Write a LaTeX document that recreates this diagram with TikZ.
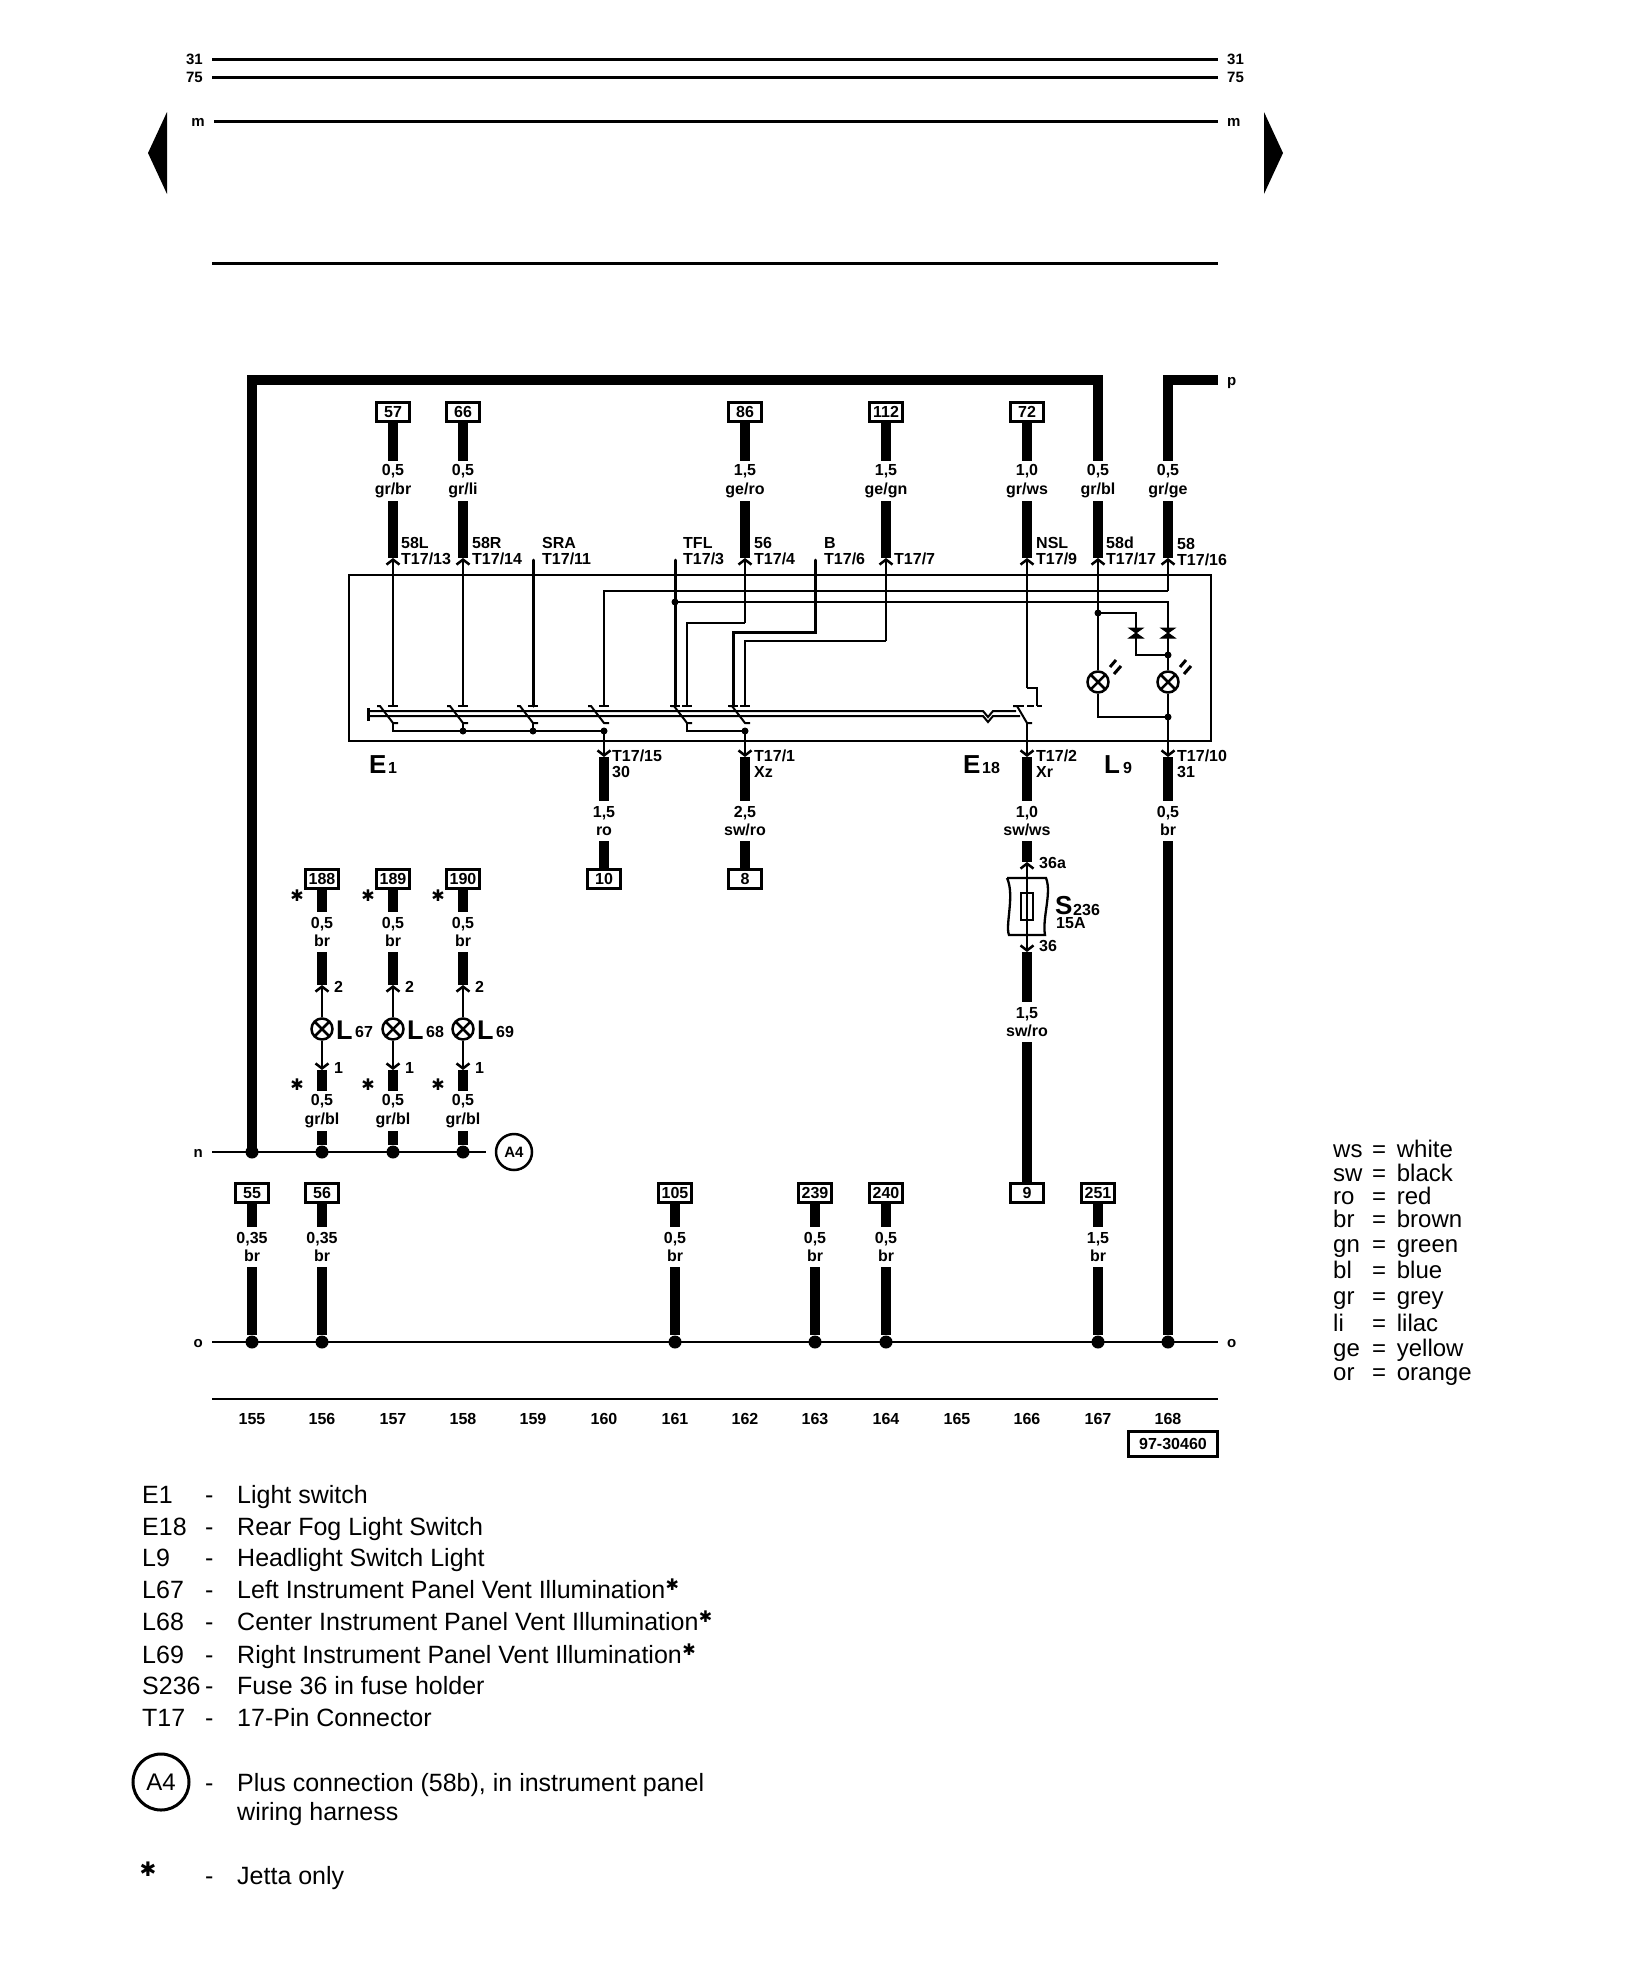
\documentclass[tikz,border=0pt]{standalone}
\usepackage{fontspec}
\setmainfont{Liberation Sans}
\newfontfamily\starfont{DejaVu Sans}
\usetikzlibrary{arrows.meta}
\usetikzlibrary{positioning}
\usetikzlibrary{calc}
\tikzstyle{rail}=[line width=3pt]
\tikzstyle{busline}=[line width=2pt]
\tikzstyle{thickwire}=[line width=10pt]
\tikzstyle{thinwire}=[line width=2pt]
\tikzstyle{pinwire}=[line width=2pt,-{Straight Barb[length=5pt,width=13pt,line width=2.5pt]}]
\tikzstyle{frame}=[line width=2.7pt]
\tikzstyle{railtext}=[inner sep=9pt,text height=10pt,text depth=0pt,font=\fontsize{15}{15}\bfseries\selectfont]
\tikzstyle{refbox}=[draw,line width=2.3pt,minimum width=33pt,minimum height=19pt,inner sep=0pt,font=\fontsize{16}{16}\bfseries\selectfont]
\tikzstyle{wirelabel}=[align=center,inner sep=0pt,minimum height=40pt,font=\fontsize{16}{18.5}\bfseries\selectfont]
\tikzstyle{pinlabel}=[align=left,anchor=west,inner sep=0pt,font=\fontsize{16}{16}\bfseries\selectfont]
\tikzstyle{coltext}=[inner sep=0pt,font=\fontsize{16}{16}\bfseries\selectfont]
\tikzstyle{bigtext}=[anchor=west,inner sep=0pt,text height=20pt,text depth=0pt,font=\fontsize{27}{27}\bfseries\selectfont]
\tikzstyle{junction}=[circle,fill,inner sep=0pt,minimum size=13pt]
\tikzstyle{smalldot}=[circle,fill,inner sep=0pt,minimum size=7pt]
\tikzstyle{lamp}=[draw,circle,line width=2.5pt,inner sep=0pt,minimum size=21pt,path picture={\draw[line width=2.5pt] (path picture bounding box.north west) -- (path picture bounding box.south east) (path picture bounding box.north east) -- (path picture bounding box.south west);}]
\tikzstyle{staricon}=[inner sep=0pt,font=\fontsize{16}{16}\starfont]
\tikzstyle{legend}=[anchor=west,inner sep=0pt,text height=17pt,text depth=0pt,font=\fontsize{25}{25}\selectfont]
\tikzstyle{colorkey}=[anchor=west,inner sep=0pt,text height=17pt,text depth=0pt,font=\fontsize{24}{24}\selectfont]
\begin{document}
\begin{tikzpicture}[x=1pt,y=-1pt]
\useasboundingbox (0,0) rectangle (1632,1986);

\node [railtext,anchor=east] (r31l) at (212,59) {31};
\node [railtext,anchor=west] (r31r) at (1218,59) {31};
\node [railtext,anchor=east] (r75l) at (212,77) {75};
\node [railtext,anchor=west] (r75r) at (1218,77) {75};
\node [railtext,anchor=east] (rml) at (214,121) {m};
\node [railtext,anchor=west] (rmr) at (1218,121) {m};
\coordinate (r5l) at (212,263);
\coordinate (r5r) at (1218,263);
\draw [rail] (r31l) -- (r31r);
\draw [rail] (r75l) -- (r75r);
\draw [rail] (rml) -- (rmr);
\draw [rail] (r5l) -- (r5r);
\fill (148,153) -- (167,112) -- (167,194) -- cycle;
\fill (1283,153) -- (1264,112) -- (1264,194) -- cycle;

\draw [frame] (349,575) rectangle (1211,741);

\node [railtext,anchor=west] (rp) at (1218,380) {p};
\node [refbox] (b57) at (393,412) {57};
\node [refbox] (b66) at (463,412) {66};
\node [refbox] (b86) at (745,412) {86};
\node [refbox] (b112) at (886,412) {112};
\node [refbox] (b72) at (1027,412) {72};
\node [wirelabel] (w57) at (393,481) {0,5\\gr/br};
\node [wirelabel] (w66) at (463,481) {0,5\\gr/li};
\node [wirelabel] (w86) at (745,481) {1,5\\ge/ro};
\node [wirelabel] (w112) at (886,481) {1,5\\ge/gn};
\node [wirelabel] (w72) at (1027,481) {1,0\\gr/ws};
\node [wirelabel] (w167) at (1098,481) {0,5\\gr/bl};
\node [wirelabel] (w168) at (1168,481) {0,5\\gr/ge};
\coordinate (p57) at (393,558);
\coordinate (p66) at (463,558);
\coordinate (p86) at (745,558);
\coordinate (p112) at (886,558);
\coordinate (p72) at (1027,558);
\coordinate (p167) at (1098,558);
\coordinate (p168) at (1168,558);
\coordinate (a155) at (252,380);
\coordinate (a167) at (1098,380);
\coordinate (a168) at (1168,380);
\draw [thickwire,line join=miter] (w167.north) -- (a167) -- (a155) -- (252,1152);
\draw [thickwire,line join=miter] (w168.north) -- (a168) -- (rp.west);
\draw [thickwire] (b57.south) -- (w57.north);
\draw [thickwire] (w57.south) -- (p57);
\draw [thickwire] (b66.south) -- (w66.north);
\draw [thickwire] (w66.south) -- (p66);
\draw [thickwire] (b86.south) -- (w86.north);
\draw [thickwire] (w86.south) -- (p86);
\draw [thickwire] (b112.south) -- (w112.north);
\draw [thickwire] (w112.south) -- (p112);
\draw [thickwire] (b72.south) -- (w72.north);
\draw [thickwire] (w72.south) -- (p72);
\draw [thickwire] (w167.south) -- (p167);
\draw [thickwire] (w168.south) -- (p168);

\node [pinlabel] (n13) at (401,551) {58L\\T17/13};
\node [pinlabel] (n14) at (472,551) {58R\\T17/14};
\node [pinlabel] (n11) at (542,551) {SRA\\T17/11};
\node [pinlabel] (n3) at (683,551) {TFL\\T17/3};
\node [pinlabel] (n4) at (754,551) {56\\T17/4};
\node [pinlabel] (n6) at (824,551) {B\\T17/6};
\node [pinlabel] (n7) at (894,559) {T17/7};
\node [pinlabel] (n9) at (1036,551) {NSL\\T17/9};
\node [pinlabel] (n17) at (1106,551) {58d\\T17/17};
\node [pinlabel] (n16) at (1177,552) {58\\T17/16};
\node [pinlabel] (n15) at (612,764) {T17/15\\30};
\node [pinlabel] (n1) at (754,764) {T17/1\\Xz};
\node [pinlabel] (n2) at (1036,764) {T17/2\\Xr};
\node [pinlabel] (n10) at (1177,764) {T17/10\\31};

\coordinate (s157) at (393,706);
\coordinate (s158) at (463,706);
\coordinate (s159) at (533,706);
\coordinate (s160) at (604,706);
\coordinate (s161) at (675,706);
\coordinate (s161b) at (687,706);
\coordinate (s162) at (733,706);
\coordinate (s162b) at (745,706);
\coordinate (s166) at (1037,706);
\coordinate (q159) at (533,560);
\coordinate (q161) at (675,560);
\coordinate (q163) at (815,560);
\draw [pinwire] (s157) -- (p57);
\draw [pinwire] (s158) -- (p66);
\draw [line width=3pt,line cap=round] (q159) -- (s159);
\draw [line width=3pt,line cap=round] (q161) -- (s161);
\draw [line width=3pt,line cap=round] (q163) -- (815,632) -- (733,632) -- (s162);
\draw [thinwire] (s160) -- (604,591) -- (1168,591);
\draw [pinwire] (1168,591) -- (p168);
\draw [line width=2.5pt] (s161b) -- (687,623) -- (745,623);
\draw [pinwire,line width=2.5pt] (745,623) -- (p86);
\draw [line width=2.5pt] (s162b) -- (745,641) -- (886,641);
\draw [pinwire] (886,641) -- (p112);
\draw [thinwire] (s166) -- (1037,688) -- (1027,688);
\draw [pinwire] (1027,688) -- (p72);

\draw [thinwire] (388,706) -- (398,706) (458,706) -- (468,706) (528,706) -- (538,706) (599,706) -- (609,706);
\draw [thinwire] (670,706) -- (680,706) (682,706) -- (692,706) (728,706) -- (738,706) (740,706) -- (750,706);
\draw [thinwire] (377,706) -- (380,706) -- (393,723) -- (398,723);
\draw [thinwire] (447,706) -- (450,706) -- (463,723) -- (468,723);
\draw [thinwire] (517,706) -- (520,706) -- (533,723) -- (538,723);
\draw [thinwire] (588,706) -- (591,706) -- (604,723) -- (609,723);
\draw [thinwire] (671,706) -- (674,706) -- (687,723) -- (692,723);
\draw [thinwire] (729,706) -- (732,706) -- (745,723) -- (750,723);
\draw [thinwire] (1013,706) -- (1017,706) -- (1027,723) -- (1032,723);
\draw [thinwire,dashed,dash pattern=on 7pt off 3pt] (1017,706) -- (1042,706);
\draw [thinwire] (368,711) -- (983,711) -- (988,717) -- (993,711) -- (1016,711);
\draw [thinwire] (368,716) -- (983,716) -- (988,722) -- (993,716) -- (1020,716);
\draw [line width=3pt] (368,708) -- (368,721);

\node [smalldot] (d158) at (463,731) {};
\node [smalldot] (d159) at (533,731) {};
\node [smalldot] (d160) at (604,731) {};
\node [smalldot] (d162) at (745,731) {};
\draw [thinwire] (393,723) -- (393,731) -- (d160.center);
\draw [thinwire] (687,723) -- (687,731) -- (d162.center);
\draw [thinwire] (d158.center) -- (463,723);
\draw [thinwire] (d159.center) -- (533,723);

\coordinate (p160) at (604,757);
\coordinate (p162) at (745,757);
\coordinate (p166) at (1027,757);
\coordinate (p168b) at (1168,757);
\draw [pinwire] (d160.center) -- (p160);
\draw [pinwire] (d162.center) -- (p162);
\draw [pinwire] (1027,723) -- (p166);

\node [smalldot] (k161) at (675,602) {};
\node [smalldot] (k167) at (1098,613) {};
\node [smalldot] (k168) at (1168,655) {};
\node [smalldot] (k168b) at (1168,717) {};
\node [lamp] (lamp167) at (1098,682) {};
\node [lamp] (lamp168) at (1168,682) {};
\draw [thinwire] (k161.center) -- (1168,602) -- (k168.center);
\draw [thinwire] (k167.center) -- (1136,613) -- (1136,655) -- (k168.center);
\draw [pinwire,line width=2.5pt] (k167.center) -- (p167);
\draw [line width=2.5pt] (k167.center) -- (lamp167.north);
\draw [line width=2.5pt] (k168.center) -- (lamp168.north);
\draw [line width=2.5pt] (lamp167.south) -- (1098,717) -- (k168b.center);
\draw [line width=2.5pt] (lamp168.south) -- (k168b.center);
\draw [pinwire,line width=2.5pt] (k168b.center) -- (p168b);
\filldraw [line width=1pt] (1129,628) -- (1143,628) -- (1136,633) -- cycle;
\filldraw [line width=1pt] (1161,628) -- (1175,628) -- (1168,633) -- cycle;
\filldraw [line width=1pt] (1129,638) -- (1143,638) -- (1136,633) -- cycle;
\filldraw [line width=1pt] (1161,638) -- (1175,638) -- (1168,633) -- cycle;
\draw [line width=3pt] (1110,667) -- (1116,660) (1114,674) -- (1121,666);
\draw [line width=3pt] (1180,667) -- (1186,660) (1184,674) -- (1191,666);

\node [pinlabel,text height=20pt,text depth=0pt,font=\fontsize{26}{26}\bfseries\selectfont] (e1) at (369,763) {E};
\node [pinlabel] (e1n) at (388,768) {1};
\node [pinlabel,text height=20pt,text depth=0pt,font=\fontsize{26}{26}\bfseries\selectfont] (e18) at (963,763) {E};
\node [pinlabel] (e18n) at (982,768) {18};
\node [pinlabel,text height=20pt,text depth=0pt,font=\fontsize{26}{26}\bfseries\selectfont] (l9) at (1104,763) {L};
\node [pinlabel] (l9n) at (1123,768) {9};

\node [wirelabel] (w160) at (604,821) {1,5\\ro};
\node [wirelabel] (w162) at (745,821) {2,5\\sw/ro};
\node [wirelabel] (w166) at (1027,821) {1,0\\sw/ws};
\node [wirelabel] (w168b) at (1168,821) {0,5\\br};
\node [refbox] (b10) at (604,879) {10};
\node [refbox] (b8) at (745,879) {8};
\draw [thickwire] (p160) -- (w160.north);
\draw [thickwire] (w160.south) -- (b10.north);
\draw [thickwire] (p162) -- (w162.north);
\draw [thickwire] (w162.south) -- (b8.north);
\draw [thickwire] (p166) -- (w166.north);
\draw [thickwire] (p168b) -- (w168b.north);

\coordinate (f166) at (1027,862);
\coordinate (g166) at (1027,952);
\node [wirelabel] (w166b) at (1027,1022) {1,5\\sw/ro};
\node [refbox] (b9) at (1027,1193) {9};
\draw [thickwire] (w166.south) -- (f166);
\draw [thickwire] (g166) -- (w166b.north);
\draw [thickwire] (w166b.south) -- (b9.north);
\draw [line width=2.3pt,-{Straight Barb[length=5pt,width=13pt,line width=2.5pt]}] (1027,907) -- (f166);
\draw [line width=2.3pt,-{Straight Barb[length=5pt,width=13pt,line width=2.5pt]}] (1027,907) -- (g166);
\draw [line width=2.3pt] (1021,893) rectangle (1033,920);
\draw [line width=2.3pt] (1007,878) -- (1046,878) .. controls (1052,893) and (1042,918) .. (1045,935) -- (1009,935) .. controls (1005,925) and (1015,895) .. (1007,878);
\node [pinlabel] (n36a) at (1039,863) {36a};
\node [pinlabel] (n36b) at (1039,946) {36};
\node [pinlabel,text height=19pt,text depth=0pt,font=\fontsize{26}{26}\bfseries\selectfont] (s236) at (1055,905) {S};
\node [pinlabel] (s236n) at (1073,910) {236};
\node [pinlabel] (s15a) at (1056,923) {15A};

\node [refbox] (b188) at (322,879) {188};
\node [refbox] (b189) at (393,879) {189};
\node [refbox] (b190) at (463,879) {190};
\node [wirelabel] (u156) at (322,932) {0,5\\br};
\node [wirelabel] (u157) at (393,932) {0,5\\br};
\node [wirelabel] (u158) at (463,932) {0,5\\br};
\coordinate (c156) at (322,985);
\coordinate (c157) at (393,985);
\coordinate (c158) at (463,985);
\node [lamp] (l67) at (322,1029) {};
\node [lamp] (l68) at (393,1029) {};
\node [lamp] (l69) at (463,1029) {};
\coordinate (e156) at (322,1070);
\coordinate (e157) at (393,1070);
\coordinate (e158) at (463,1070);
\node [wirelabel] (v156) at (322,1111) {0,5\\gr/bl};
\node [wirelabel] (v157) at (393,1111) {0,5\\gr/bl};
\node [wirelabel] (v158) at (463,1111) {0,5\\gr/bl};
\node [junction] (n155) at (252,1152) {};
\node [junction] (n156) at (322,1152) {};
\node [junction] (n157) at (393,1152) {};
\node [junction] (n158) at (463,1152) {};
\node [draw,circle,line width=2.5pt,minimum size=36pt,inner sep=0pt,font=\fontsize{15}{15}\bfseries\selectfont] (a4) at (514,1152) {A4};
\node [railtext,anchor=east] (rn) at (212,1152) {n};
\draw [busline,shorten >=9pt] (rn) -- (a4);
\draw [thickwire] (b188.south) -- (u156.north);
\draw [thickwire] (b189.south) -- (u157.north);
\draw [thickwire] (b190.south) -- (u158.north);
\draw [thickwire] (u156.south) -- (c156);
\draw [thickwire] (u157.south) -- (c157);
\draw [thickwire] (u158.south) -- (c158);
\draw [pinwire] (l67.north) -- (c156);
\draw [pinwire] (l68.north) -- (c157);
\draw [pinwire] (l69.north) -- (c158);
\draw [pinwire] (l67.south) -- (e156);
\draw [pinwire] (l68.south) -- (e157);
\draw [pinwire] (l69.south) -- (e158);
\draw [thickwire] (e156) -- (v156.north);
\draw [thickwire] (e157) -- (v157.north);
\draw [thickwire] (e158) -- (v158.north);
\draw [thickwire] (v156.south) -- (n156);
\draw [thickwire] (v157.south) -- (n157);
\draw [thickwire] (v158.south) -- (n158);
\node [pinlabel] (i2a) at (334,987) {2};
\node [pinlabel] (i2b) at (405,987) {2};
\node [pinlabel] (i2c) at (475,987) {2};
\node [pinlabel] (i1a) at (334,1068) {1};
\node [pinlabel] (i1b) at (405,1068) {1};
\node [pinlabel] (i1c) at (475,1068) {1};
\node [bigtext] (t67) at (336,1029) {L};
\node [bigtext] (t68) at (407,1029) {L};
\node [bigtext] (t69) at (477,1029) {L};
\node [pinlabel] (t67n) at (355,1032) {67};
\node [pinlabel] (t68n) at (426,1032) {68};
\node [pinlabel] (t69n) at (496,1032) {69};
\node [staricon] (st1) at (297,896) {✱};
\node [staricon] (st2) at (368,896) {✱};
\node [staricon] (st3) at (438,896) {✱};
\node [staricon] (st4) at (297,1085) {✱};
\node [staricon] (st5) at (368,1085) {✱};
\node [staricon] (st6) at (438,1085) {✱};

\node [refbox] (b55) at (252,1193) {55};
\node [refbox] (b56) at (322,1193) {56};
\node [refbox] (b105) at (675,1193) {105};
\node [refbox] (b239) at (815,1193) {239};
\node [refbox] (b240) at (886,1193) {240};
\node [refbox] (b251) at (1098,1193) {251};
\node [wirelabel] (x155) at (252,1247) {0,35\\br};
\node [wirelabel] (x156) at (322,1247) {0,35\\br};
\node [wirelabel] (x161) at (675,1247) {0,5\\br};
\node [wirelabel] (x163) at (815,1247) {0,5\\br};
\node [wirelabel] (x164) at (886,1247) {0,5\\br};
\node [wirelabel] (x167) at (1098,1247) {1,5\\br};
\node [junction] (o155) at (252,1342) {};
\node [junction] (o156) at (322,1342) {};
\node [junction] (o161) at (675,1342) {};
\node [junction] (o163) at (815,1342) {};
\node [junction] (o164) at (886,1342) {};
\node [junction] (o167) at (1098,1342) {};
\node [junction] (o168) at (1168,1342) {};
\node [railtext,anchor=east] (rol) at (212,1342) {o};
\node [railtext,anchor=west] (ror) at (1218,1342) {o};
\draw [busline] (rol) -- (ror);
\draw [thickwire] (b55.south) -- (x155.north);
\draw [thickwire] (x155.south) -- (o155);
\draw [thickwire] (b56.south) -- (x156.north);
\draw [thickwire] (x156.south) -- (o156);
\draw [thickwire] (b105.south) -- (x161.north);
\draw [thickwire] (x161.south) -- (o161);
\draw [thickwire] (b239.south) -- (x163.north);
\draw [thickwire] (x163.south) -- (o163);
\draw [thickwire] (b240.south) -- (x164.north);
\draw [thickwire] (x164.south) -- (o164);
\draw [thickwire] (b251.south) -- (x167.north);
\draw [thickwire] (x167.south) -- (o167);
\draw [thickwire] (w168b.south) -- (o168);

\draw [busline] (212,1399) -- (1218,1399);
\node [coltext] (c155) at (252,1419) {155};
\node [coltext] (c156t) at (322,1419) {156};
\node [coltext] (c157t) at (393,1419) {157};
\node [coltext] (c158t) at (463,1419) {158};
\node [coltext] (c159t) at (533,1419) {159};
\node [coltext] (c160t) at (604,1419) {160};
\node [coltext] (c161t) at (675,1419) {161};
\node [coltext] (c162t) at (745,1419) {162};
\node [coltext] (c163t) at (815,1419) {163};
\node [coltext] (c164t) at (886,1419) {164};
\node [coltext] (c165t) at (957,1419) {165};
\node [coltext] (c166t) at (1027,1419) {166};
\node [coltext] (c167t) at (1098,1419) {167};
\node [coltext] (c168t) at (1168,1419) {168};
\node [draw,line width=2.3pt,minimum width=89pt,minimum height=25pt,inner sep=0pt,font=\fontsize{16}{16}\bfseries\selectfont] (docno) at (1173,1444) {97-30460};

\node [colorkey] (c1) at (1333,1149) {ws};
\node [colorkey] (c2) at (1333,1173) {sw};
\node [colorkey] (c3) at (1333,1196) {ro};
\node [colorkey] (c4) at (1333,1219) {br};
\node [colorkey] (c5) at (1333,1244) {gn};
\node [colorkey] (c6) at (1333,1270) {bl};
\node [colorkey] (c7) at (1333,1296) {gr};
\node [colorkey] (c8) at (1333,1323) {li};
\node [colorkey] (c9) at (1333,1348) {ge};
\node [colorkey] (c10) at (1333,1372) {or};
\node [colorkey] (d1) at (1372,1149) {=\hspace{4pt} white};
\node [colorkey] (d2) at (1372,1173) {=\hspace{4pt} black};
\node [colorkey] (d3) at (1372,1196) {=\hspace{4pt} red};
\node [colorkey] (d4) at (1372,1219) {=\hspace{4pt} brown};
\node [colorkey] (d5) at (1372,1244) {=\hspace{4pt} green};
\node [colorkey] (d6) at (1372,1270) {=\hspace{4pt} blue};
\node [colorkey] (d7) at (1372,1296) {=\hspace{4pt} grey};
\node [colorkey] (d8) at (1372,1323) {=\hspace{4pt} lilac};
\node [colorkey] (d9) at (1372,1348) {=\hspace{4pt} yellow};
\node [colorkey] (d10) at (1372,1372) {=\hspace{4pt} orange};

\node [legend] (k1) at (142,1495) {E1};
\node [legend] (k2) at (142,1527) {E18};
\node [legend] (k3) at (142,1558) {L9};
\node [legend] (k4) at (142,1590) {L67};
\node [legend] (k5) at (142,1622) {L68};
\node [legend] (k6) at (142,1655) {L69};
\node [legend] (k7) at (142,1686) {S236};
\node [legend] (k8) at (142,1718) {T17};
\node [legend] (m1) at (205,1495) {-};
\node [legend] (m2) at (205,1527) {-};
\node [legend] (m3) at (205,1558) {-};
\node [legend] (m4) at (205,1590) {-};
\node [legend] (m5) at (205,1622) {-};
\node [legend] (m6) at (205,1655) {-};
\node [legend] (m7) at (205,1686) {-};
\node [legend] (m8) at (205,1718) {-};
\node [legend] (m9) at (205,1783) {-};
\node [legend] (m10) at (205,1876) {-};
\node [legend] (v1) at (237,1495) {Light switch};
\node [legend] (v2) at (237,1527) {Rear Fog Light Switch};
\node [legend] (v3) at (237,1558) {Headlight Switch Light};
\node [legend] (v4) at (237,1590) {Left Instrument Panel Vent Illumination};
\node [legend] (v5) at (237,1622) {Center Instrument Panel Vent Illumination};
\node [legend] (v6) at (237,1655) {Right Instrument Panel Vent Illumination};
\node [legend] (v7) at (237,1686) {Fuse 36 in fuse holder};
\node [legend] (v8) at (237,1718) {17-Pin Connector};
\node [legend] (v9) at (237,1783) {Plus connection (58b), in instrument panel};
\node [legend] (v9b) at (237,1812) {wiring harness};
\node [legend] (v10) at (237,1876) {Jetta only};
\node [staricon,right=0pt of v4,yshift=5pt] (s4) {✱};
\node [staricon,right=0pt of v5,yshift=5pt] (s5) {✱};
\node [staricon,right=0pt of v6,yshift=5pt] (s6) {✱};
\node [staricon,font=\fontsize{20}{20}\starfont] (s10) at (148,1869) {✱};
\node [draw,circle,line width=3pt,minimum size=56pt,inner sep=0pt,font=\fontsize{24}{24}\selectfont] (k9) at (161,1782) {A4};
\end{tikzpicture}
\end{document}
